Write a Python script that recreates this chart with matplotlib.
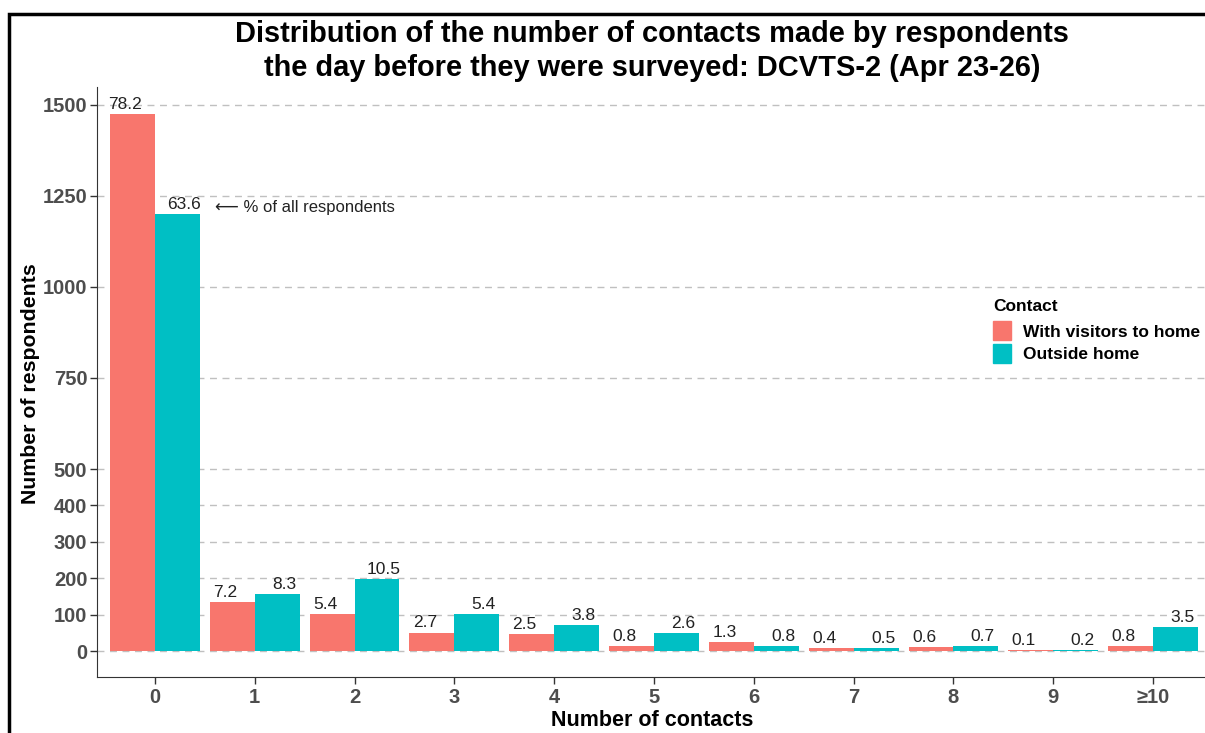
import numpy as np
import matplotlib
matplotlib.use("Agg")
from matplotlib import pyplot as plt
from matplotlib.patches import Rectangle, Patch

plt.rcParams['font.family'] = ['Liberation Sans', 'DejaVu Sans']

# ---data---
categories = ["0", "1", "2", "3", "4", "5", "6", "7", "8", "9", "\u226510"]
visitors = [1475, 136, 102, 51, 47, 15, 25, 8, 11, 2, 15]
outside = [1199, 157, 198, 102, 72, 49, 15, 9, 13, 4, 66]
visitors_pct = ["78.2", "7.2", "5.4", "2.7", "2.5", "0.8", "1.3", "0.4", "0.6", "0.1", "0.8"]
outside_pct = ["63.6", "8.3", "10.5", "5.4", "3.8", "2.6", "0.8", "0.5", "0.7", "0.2", "3.5"]
y_ticks = [0, 100, 200, 300, 400, 500, 750, 1000, 1250, 1500]

col_v = "#F8766D"
col_o = "#00BFC4"

W, H = 1205, 733
fig = plt.figure(figsize=(12.05, 7.33), dpi=100)
ax = fig.add_axes([97 / W, 1 - 677 / H, 1 - 97 / W, (677 - 87) / H])

x = np.arange(len(categories))
w = 0.45
ax.bar(x - w / 2, visitors, w, color=col_v, zorder=2)
ax.bar(x + w / 2, outside, w, color=col_o, zorder=2)

for i in range(len(categories)):
	ax.annotate(visitors_pct[i], (x[i] - w / 2 - 0.07, visitors[i]), xytext=(0, 1.5),
		textcoords="offset points", ha="center", va="bottom", fontsize=12.5, color="#222222")
	ax.annotate(outside_pct[i], (x[i] + w / 2 + 0.07, outside[i]), xytext=(0, 1.5),
		textcoords="offset points", ha="center", va="bottom", fontsize=12.5, color="#222222")

ax.text(0.6, 1217, "\u27f5 % of all respondents", ha="left", va="center", fontsize=12,
	color="#222222")

ax.set_xlim(-0.58, 10.52)
ax.set_ylim(-71, 1549)
ax.set_xticks(x)
ax.set_xticklabels(categories)
ax.set_yticks(y_ticks)
ax.yaxis.grid(True, linestyle=(0, (5, 4)), color="#c0c0c0", linewidth=1, zorder=0)
ax.set_axisbelow(True)
for lab in ax.get_xticklabels() + ax.get_yticklabels():
	lab.set_fontweight("bold")
	lab.set_color("#4d4d4d")
	lab.set_fontsize(14.5)
ax.tick_params(axis="y", length=5, color="#333333", width=1, pad=2)
ax.tick_params(axis="x", length=5, color="#333333", width=1, pad=3)
ax.spines["top"].set_visible(False)
ax.spines["right"].set_visible(False)
ax.spines["left"].set_color("#333333")
ax.spines["bottom"].set_color("#333333")

fig.text(652 / W, 1 - 720 / H, "Number of contacts", ha="center", va="center", fontsize=15.5, fontweight="bold")
fig.text(31 / W, 1 - 384 / H, "Number of respondents", ha="center", va="center", rotation=90,
	fontsize=15.3, fontweight="bold")

fig.text(652 / W, 1 - 51 / H, "Distribution of the number of contacts made by respondents\nthe day before they were surveyed: DCVTS-2 (Apr 23-26)",
	ha="center", va="center", fontsize=20.9, fontweight="bold", linespacing=1.25)

handles = [Patch(color=col_v), Patch(color=col_o)]
leg = ax.legend(handles, ["With visitors to home", "Outside home"], title="Contact",
	loc="upper left", bbox_to_anchor=(990 / W, 1 - 296 / H), bbox_transform=fig.transFigure,
	frameon=False, prop={"weight": "bold", "size": 12.5}, handlelength=1.0, handleheight=1.3,
	handletextpad=0.7, labelspacing=0.2, borderaxespad=0, borderpad=0.2)
leg.get_title().set_fontweight("bold")
leg.get_title().set_fontsize(12.5)
leg._legend_box.align = "left"
leg._legend_box.sep = 5

# outer border
fig.patches.append(Rectangle((9 / W, -0.1), 1.2, 1 - 14 / H + 0.1, transform=fig.transFigure,
	fill=False, edgecolor="black", linewidth=2.5, zorder=10))

fig.savefig("out.png", dpi=100)
